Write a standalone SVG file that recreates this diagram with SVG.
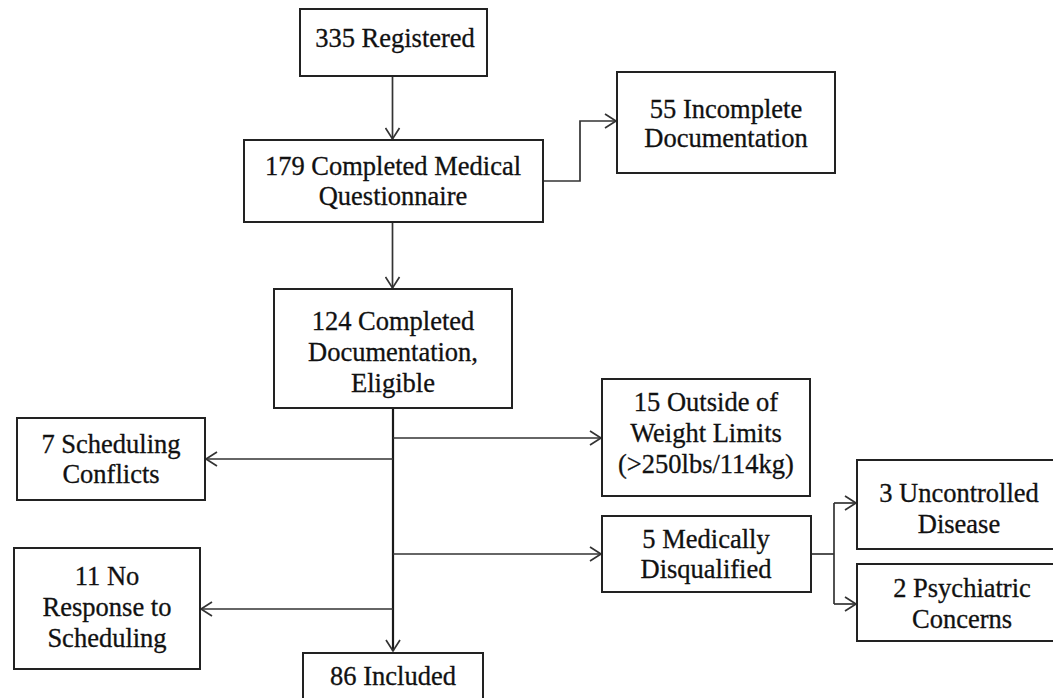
<svg xmlns="http://www.w3.org/2000/svg" width="1053" height="698" viewBox="0 0 1053 698">
<style>
.box{fill:#fff;stroke:#222;stroke-width:2}
.t{font-family:"Liberation Serif","Times New Roman",serif;font-size:26.5px;fill:#111;stroke:#111;stroke-width:0.3;text-anchor:middle}
.c{fill:none;stroke:#333;stroke-width:1.7}
.tr{fill:none;stroke:#1a1a1a;stroke-width:2.2}
</style>
<defs>
<marker id="ah" markerWidth="14" markerHeight="16" refX="12" refY="8" orient="auto" markerUnits="userSpaceOnUse">
<path d="M1,1 L12,8 L1,15" fill="none" stroke="#333" stroke-width="1.7"/>
</marker>
</defs>
<rect width="1053" height="698" fill="#fff"/>
<g id="connectors">
<path class="c" d="M392.5,76 V139" marker-end="url(#ah)"/>
<path class="c" d="M543,181 H580 V121 H616" marker-end="url(#ah)"/>
<path class="c" d="M392.5,222 V288" marker-end="url(#ah)"/>
<path class="tr" d="M393,408 V651" marker-end="url(#ah)"/>
<path class="c" d="M393,438 H601" marker-end="url(#ah)"/>
<path class="c" d="M393,459 H206" marker-end="url(#ah)"/>
<path class="c" d="M393,554 H601" marker-end="url(#ah)"/>
<path class="c" d="M393,609 H201" marker-end="url(#ah)"/>
<path class="c" d="M811,554 H834"/>
<path class="c" d="M834,503 V604"/>
<path class="c" d="M834,503 H856" marker-end="url(#ah)"/>
<path class="c" d="M834,604 H856" marker-end="url(#ah)"/>
</g>
<g id="n335">
<rect class="box" x="300" y="9" width="187" height="67"/>
<text class="t" x="395" y="47">335 Registered</text>
</g>
<g id="n179">
<rect class="box" x="244" y="140" width="299" height="82"/>
<text class="t" x="393" y="175">179 Completed Medical</text>
<text class="t" x="393" y="205">Questionnaire</text>
</g>
<g id="n55">
<rect class="box" x="617" y="72" width="218" height="101"/>
<text class="t" x="726" y="118">55 Incomplete</text>
<text class="t" x="726" y="147">Documentation</text>
</g>
<g id="n124">
<rect class="box" x="274" y="289" width="238" height="119"/>
<text class="t" x="393" y="330">124 Completed</text>
<text class="t" x="393" y="361">Documentation,</text>
<text class="t" x="393" y="392">Eligible</text>
</g>
<g id="n7">
<rect class="box" x="17" y="418" width="188" height="82"/>
<text class="t" x="111" y="453">7 Scheduling</text>
<text class="t" x="111" y="483">Conflicts</text>
</g>
<g id="n15">
<rect class="box" x="602" y="379" width="208" height="117"/>
<text class="t" x="706" y="411">15 Outside of</text>
<text class="t" x="706" y="442">Weight Limits</text>
<text class="t" x="706" y="473">(&gt;250lbs/114kg)</text>
</g>
<g id="n5">
<rect class="box" x="602" y="516" width="209" height="76"/>
<text class="t" x="706" y="548">5 Medically</text>
<text class="t" x="706" y="578">Disqualified</text>
</g>
<g id="n3">
<rect class="box" x="857" y="460" width="206" height="89"/>
<text class="t" x="959" y="502">3 Uncontrolled</text>
<text class="t" x="959" y="533">Disease</text>
</g>
<g id="n2">
<rect class="box" x="857" y="564" width="206" height="77"/>
<text class="t" x="962" y="597">2 Psychiatric</text>
<text class="t" x="962" y="628">Concerns</text>
</g>
<g id="n11">
<rect class="box" x="14" y="548" width="186" height="121"/>
<text class="t" x="107" y="585">11 No</text>
<text class="t" x="107" y="616">Response to</text>
<text class="t" x="107" y="647">Scheduling</text>
</g>
<g id="n86">
<rect class="box" x="303" y="653" width="180" height="70"/>
<text class="t" x="393" y="685">86 Included</text>
</g>
</svg>
